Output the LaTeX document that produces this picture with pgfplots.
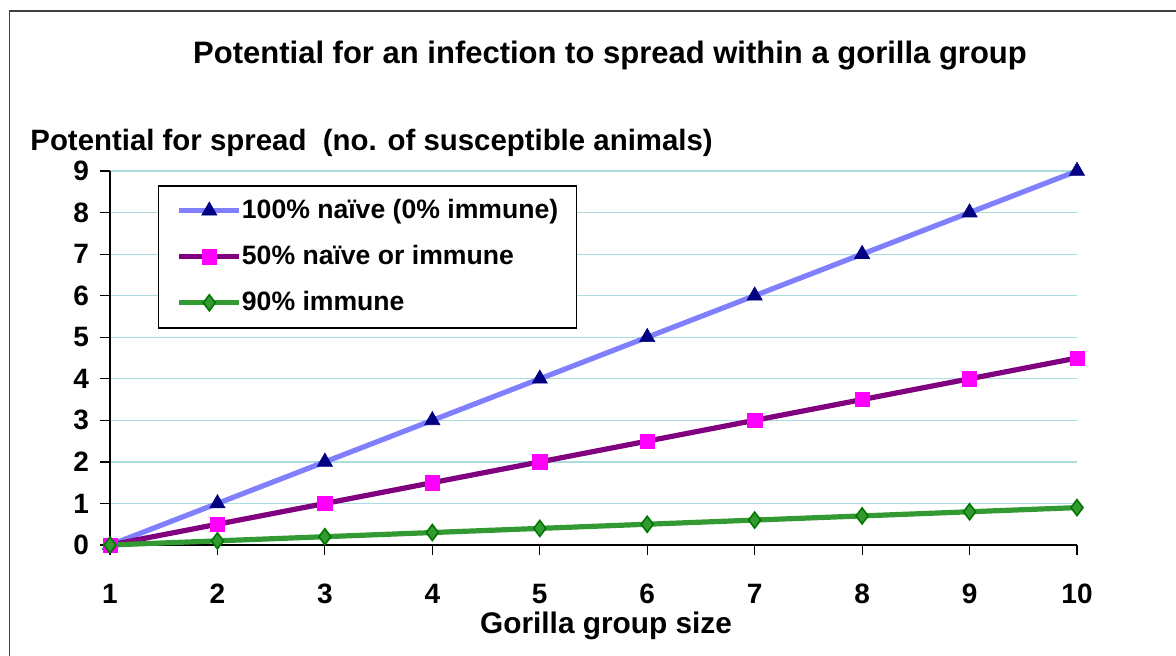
\documentclass[border=0pt]{standalone}
\usepackage{pgfplots}
\pgfplotsset{compat=1.18}
\usepackage{fontspec}
\setmainfont{Liberation Sans}
\definecolor{gridc}{RGB}{170,221,221}
\definecolor{lineA}{RGB}{128,128,255}
\definecolor{markA}{RGB}{0,0,128}
\definecolor{lineB}{RGB}{128,0,128}
\definecolor{markB}{RGB}{255,0,255}
\definecolor{lineC}{RGB}{51,153,51}
\definecolor{markCe}{RGB}{0,120,0}
\definecolor{framec}{RGB}{64,64,64}
\begin{document}
\begin{tikzpicture}
\useasboundingbox (0,0) rectangle (588pt,327.5pt);
\draw[framec, line width=0.75pt] (4.75pt,-2pt) -- (4.75pt,322pt) -- (592pt,322pt);
\node[font=\fontsize{15.5}{15.5}\selectfont\bfseries] at (305pt,299.5pt) {Potential for an infection to spread within a gorilla group};
\node[font=\fontsize{14.7}{14.7}\selectfont\bfseries, anchor=west, inner sep=0pt] at (15pt,256pt) {Potential for spread\ \ (no. of susceptible animals)};
\node[font=\fontsize{14.9}{14.9}\selectfont\bfseries] at (303pt,14.5pt) {Gorilla group size};
\begin{axis}[
  at={(55pt,55pt)}, anchor=south west,
  scale only axis, width=483.5pt, height=187pt,
  xmin=1, xmax=10, ymin=0, ymax=9,
  xtick={1,...,10}, ytick={0,...,9},
  axis x line=bottom, axis y line=left,
  axis line style={-, black, line width=0.6pt},
  tick align=outside,
  major tick length=5pt,
  tick style={black, line width=0.6pt},
  ymajorgrids, grid style={gridc, line width=0.6pt},
  /pgf/number format/assume math mode=true,
  ticklabel style={font=\fontsize{14}{14}\selectfont\bfseries},
  xticklabel style={yshift=-11pt},
  yticklabel style={xshift=-2pt},
  clip=false,
  legend style={at={(rel axis cs:0.0496,0.9626)}, anchor=north west,
    draw=black, line width=0.75pt, inner xsep=9pt, inner ysep=1pt,
    row sep=0pt,
    nodes={minimum height=23pt, inner sep=0pt, font=\fontsize{13.3}{13.3}\selectfont\bfseries, line width=0.75pt}},
  legend cell align=left,
  legend image code/.code={\draw[mark repeat=2,mark phase=2] plot coordinates {(0pt,0pt) (15pt,0pt) (30pt,0pt)};},
]
\addplot[lineA, line width=2.6pt, mark=triangle*, mark size=4.4pt, mark options={fill=markA, draw=markA, line width=0.3pt}]
 coordinates {(1,0) (2,1) (3,2) (4,3) (5,4) (6,5) (7,6) (8,7) (9,8) (10,9)};
\addlegendentry{100\% naïve (0\% immune)}
\addplot[lineB, line width=2.6pt, mark=square*, mark size=3.6pt, mark options={fill=markB, draw=markB, line width=0.3pt}]
 coordinates {(1,0) (2,0.5) (3,1) (4,1.5) (5,2) (6,2.5) (7,3) (8,3.5) (9,4) (10,4.5)};
\addlegendentry{50\% naïve or immune}
\addplot[lineC, line width=2.6pt, mark=diamond*, mark size=4pt, mark options={fill=lineC, draw=markCe, line width=0.8pt}]
 coordinates {(1,0) (2,0.1) (3,0.2) (4,0.3) (5,0.4) (6,0.5) (7,0.6) (8,0.7) (9,0.8) (10,0.9)};
\addlegendentry{90\% immune}
\end{axis}
\end{tikzpicture}
\end{document}
